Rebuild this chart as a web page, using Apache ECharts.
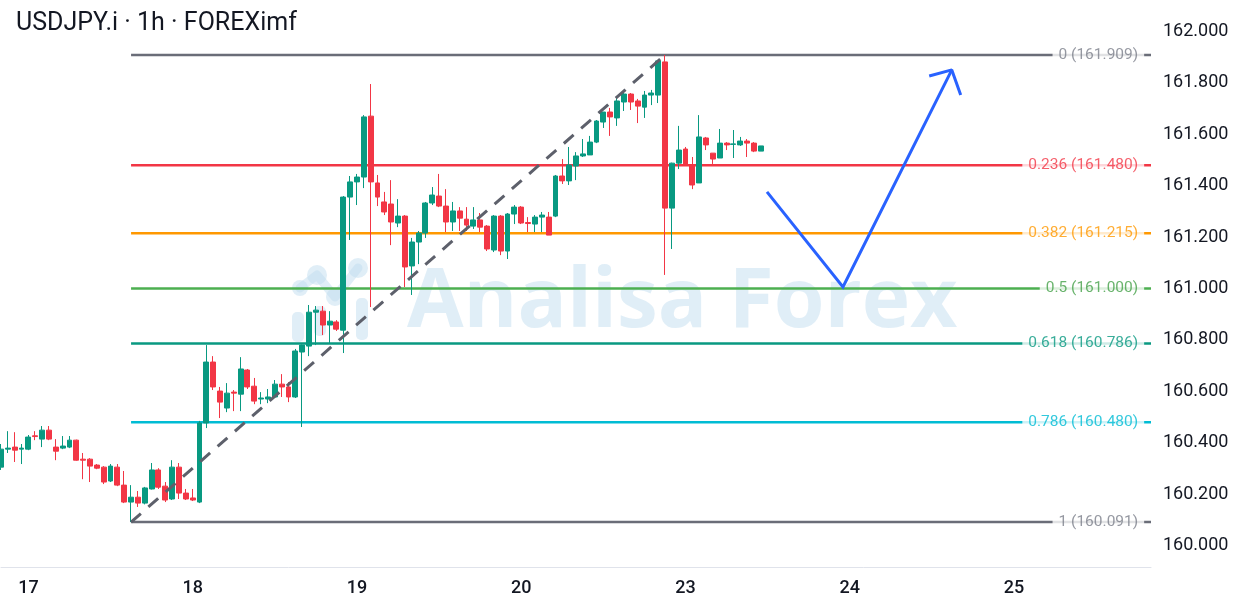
<!DOCTYPE html>
<html>
<head>
<meta charset="utf-8">
<script src="https://cdn.jsdelivr.net/npm/echarts@6/dist/echarts.min.js"></script>
<style>
html,body{margin:0;padding:0;background:#fff;}
#main{width:1248px;height:610px;}
</style>
</head>
<body>
<div id="main"></div>
<script>
// ---- data ----
const dayLabels = ['16', '17', '18', '19', '20', '23', '24', '25'];
const dayFirstHour = [20, 0, 0, 0, 0, 0, 0, 0];
const dayLastHour = [23, 23, 23, 23, 23, 23, 23, 20];

// candles: [open, close, low, high]
const candles = [
 [160.305,160.375,160.294,160.395],[160.375,160.379,160.360,160.445],[160.383,160.371,160.325,160.441],[160.375,160.379,160.317,160.395],
 [160.375,160.422,160.371,160.430],[160.427,160.424,160.410,160.445],[160.414,160.449,160.383,160.465],[160.449,160.414,160.410,160.465],
 [160.383,160.367,160.332,160.414],[160.379,160.387,160.375,160.426],[160.383,160.410,160.379,160.426],[160.410,160.332,160.330,160.412],
 [160.336,160.332,160.258,160.360],[160.336,160.309,160.247,160.340],[160.313,160.301,160.297,160.317],[160.305,160.247,160.239,160.309],
 [160.251,160.309,160.247,160.317],[160.305,160.235,160.231,160.317],[160.235,160.169,160.165,160.290],[160.169,160.188,160.091,160.235],
 [160.188,160.165,160.150,160.212],[160.165,160.224,160.160,160.228],[160.220,160.294,160.218,160.321],[160.294,160.227,160.220,160.301],
 [160.231,160.177,160.169,160.247],[160.181,160.305,160.177,160.332],[160.305,160.204,160.181,160.321],[160.204,160.181,160.177,160.220],
 [160.185,160.177,160.173,160.220],[160.169,160.477,160.165,160.485],[160.477,160.714,160.457,160.780],[160.714,160.617,160.605,160.737],
 [160.601,160.558,160.496,160.617],[160.535,160.593,160.519,160.632],[160.597,160.593,160.523,160.605],[160.589,160.687,160.523,160.733],
 [160.683,160.617,160.609,160.687],[160.620,160.562,160.550,160.652],[160.570,160.574,160.550,160.597],[160.570,160.578,160.554,160.609],
 [160.578,160.628,160.574,160.644],[160.628,160.617,160.578,160.667],[160.617,160.578,160.558,160.636],[160.578,160.757,160.574,160.765],
 [160.753,160.780,160.461,160.782],[160.776,160.908,160.737,160.936],[160.908,160.916,160.780,160.932],[160.912,160.858,160.819,160.932],
 [160.858,160.873,160.788,160.912],[160.870,160.842,160.835,160.877],[160.838,161.356,160.749,161.360],[161.356,161.415,161.189,161.438],
 [161.415,161.434,161.325,161.446],[161.434,161.668,161.391,161.675],[161.671,161.415,160.928,161.796],[161.411,161.356,161.321,161.442],
 [161.337,161.298,161.286,161.376],[161.329,161.259,161.169,161.422],[161.255,161.282,161.239,161.348],[161.282,161.084,161.006,161.286],
 [161.088,161.181,160.975,161.197],[161.181,161.216,161.095,161.224],[161.216,161.333,161.197,161.337],[161.333,161.364,161.325,161.395],
 [161.360,161.321,161.317,161.446],[161.321,161.259,161.220,161.387],[161.259,161.302,161.224,161.337],[161.302,161.274,161.224,161.317],
 [161.270,161.247,161.224,161.317],[161.243,161.267,161.232,161.317],[161.267,161.239,161.220,161.294],[161.243,161.154,161.146,161.247],
 [161.150,161.282,161.142,161.286],[161.282,161.146,161.130,161.286],[161.146,161.290,161.115,161.294],[161.290,161.317,161.251,161.325],
 [161.317,161.255,161.251,161.321],[161.257,161.253,161.220,161.278],[161.251,161.278,161.220,161.286],[161.278,161.286,161.220,161.298],
 [161.278,161.208,161.208,161.298],[161.282,161.438,161.278,161.442],[161.438,161.419,161.407,161.504],[161.419,161.481,161.403,161.551],
 [161.477,161.516,161.422,161.531],[161.516,161.524,161.512,161.582],[161.520,161.570,161.520,161.594],[161.570,161.652,161.566,161.656],
 [161.648,161.687,161.625,161.687],[161.687,161.668,161.594,161.703],[161.664,161.730,161.633,161.745],[161.726,161.757,161.691,161.773],
 [161.757,161.726,161.695,161.761],[161.730,161.710,161.644,161.738],[161.706,161.753,161.664,161.769],[161.753,161.761,161.714,161.773],
 [161.753,161.886,161.722,161.889],[161.882,161.313,161.053,161.909],[161.313,161.488,161.154,161.490],[161.488,161.539,161.465,161.633],
 [161.543,161.481,161.477,161.551],[161.481,161.403,161.387,161.512],[161.411,161.590,161.411,161.675],[161.586,161.559,161.539,161.590],
 [161.527,161.504,161.485,161.527],[161.508,161.566,161.508,161.621],[161.566,161.559,161.539,161.570],[161.561,161.563,161.508,161.617],
 [161.559,161.574,161.555,161.590],[161.574,161.566,161.512,161.582],[161.566,161.535,161.531,161.570],[161.535,161.555,161.535,161.555]
];

const fibRatios = ['0', '0.236', '0.382', '0.5', '0.618', '0.786', '1'];
const fibPrices = [161.909, 161.480, 161.215, 161.000, 160.786, 160.480, 160.091];
const fibLineColors = ['#6a6d78', '#f23645', '#ff9800', '#4caf50', '#089981', '#00bcd4', '#6a6d78'];
const fibTextColors = ['#7b7e89', '#f23645', '#ff9800', '#43a047', '#089981', '#00bcd4', '#7b7e89'];
const fibStartBar = 19;
const fibEndBar = 168;
const fibLabelBar = 167;

const trendLine = [[19, 160.091], [97, 161.909]];
const projectionPath = [[111.9, 161.376], [123.0, 161.006], [138.9, 161.851]];
const arrowHead = [[135.6, 161.827], [138.9, 161.851], [140.2, 161.753]];

const yTicks = { min: 160, max: 162, step: 0.2 };

// ---- build categories (hourly bars) ----
const categories = [];
dayLabels.forEach((d, k) => {
  for (let h = dayFirstHour[k]; h <= dayLastHour[k]; h++) {
    categories.push(d + ' ' + String(h).padStart(2, '0') + ':00');
  }
});
const lastIndex = categories.length - 1;

const chart = echarts.init(document.getElementById('main'), null, { renderer: 'canvas' });

const series = [];
fibPrices.forEach((p, k) => {
  series.push({
    type: 'line', xAxisIndex: 1, yAxisIndex: 0, symbol: 'none', silent: true, z: 1,
    lineStyle: { color: fibLineColors[k], width: 2.5 },
    data: [[fibStartBar, p], [fibEndBar, p]]
  });
});
series.push({
  type: 'candlestick', xAxisIndex: 0, yAxisIndex: 0, z: 3, barWidth: 5.4,
  itemStyle: { color: '#089981', color0: '#f23645', borderColor: '#089981', borderColor0: '#f23645', borderWidth: 1 },
  data: candles
});
series.push({
  type: 'line', xAxisIndex: 1, yAxisIndex: 0, symbol: 'none', z: 4, silent: true,
  lineStyle: { color: '#5d606b', width: 3, type: [13, 10] },
  data: trendLine
});
series.push({
  type: 'line', xAxisIndex: 1, yAxisIndex: 0, symbol: 'none', z: 5, silent: true,
  lineStyle: { color: '#2962ff', width: 3, join: 'miter' },
  data: projectionPath
});
series.push({
  type: 'line', xAxisIndex: 1, yAxisIndex: 0, symbol: 'none', z: 5, silent: true,
  lineStyle: { color: '#2962ff', width: 3 },
  data: arrowHead
});
series.push({
  type: 'scatter', xAxisIndex: 1, yAxisIndex: 0, symbolSize: 0, z: 6, silent: true,
  data: fibPrices.map((p, k) => ({
    value: [fibLabelBar, p],
    name: fibRatios[k] + ' (' + p.toFixed(3) + ')',
    label: { color: fibTextColors[k] }
  })),
  label: {
    show: true, position: 'left', distance: 0,
    formatter: (pr) => pr.data.name,
    fontFamily: 'Roboto', fontSize: 15.5,
    backgroundColor: '#ffffff', padding: [1, 6, 1, 6]
  }
});

const wmColor = 'rgba(190,220,238,0.48)';
const option = {
  animation: false,
  backgroundColor: '#ffffff',
  textStyle: { fontFamily: 'Roboto' },
  title: {
    text: 'USDJPY.i · 1h · FOREXimf', left: 11, top: 6,
    textStyle: { fontFamily: 'Roboto', fontSize: 25, fontWeight: 'normal', color: '#131722' }
  },
  grid: { left: 1, right: 97, top: 31.6, bottom: 64.5, containLabel: false },
  xAxis: [
    {
      type: 'category', data: categories, boundaryGap: false, offset: 21.5,
      axisLine: { show: true, lineStyle: { color: '#e0e3eb', width: 1 } },
      axisTick: { show: false },
      splitLine: { show: false },
      axisLabel: {
        interval: (i, v) => v.endsWith(' 00:00'),
        formatter: (v) => v.split(' ')[0],
        fontFamily: 'Roboto', fontSize: 18, fontWeight: 500, color: '#131722', margin: 12
      }
    },
    { type: 'value', min: 0, max: lastIndex, show: false }
  ],
  yAxis: {
    type: 'value', position: 'right', min: yTicks.min, max: yTicks.max, interval: yTicks.step,
    axisLine: { show: false }, axisTick: { show: false }, splitLine: { show: false },
    axisLabel: { formatter: (v) => v.toFixed(3), fontFamily: 'Roboto', fontSize: 18, color: '#131722', margin: 12 }
  },
  graphic: [
    {
      type: 'group', z: 100, silent: true,
      children: [
        { type: 'polyline', shape: { points: [[300, 288], [317, 275], [335, 297], [358, 268]] },
          style: { stroke: wmColor, lineWidth: 9, lineCap: 'round', lineJoin: 'round', fill: null } },
        { type: 'circle', shape: { cx: 317, cy: 275, r: 10 }, style: { fill: wmColor } },
        { type: 'circle', shape: { cx: 358, cy: 268, r: 10 }, style: { fill: wmColor } },
        { type: 'circle', shape: { cx: 300, cy: 288, r: 8 }, style: { fill: wmColor } },
        { type: 'circle', shape: { cx: 335, cy: 297, r: 9 }, style: { fill: wmColor } },
        { type: 'rect', shape: { x: 292, y: 312, width: 12, height: 30, r: 5 }, style: { fill: wmColor } },
        { type: 'rect', shape: { x: 314, y: 306, width: 12, height: 30, r: 5 }, style: { fill: wmColor } },
        { type: 'rect', shape: { x: 356, y: 298, width: 12, height: 42, r: 5 }, style: { fill: wmColor } },
        { type: 'text', style: { text: 'Analisa Forex', x: 407, y: 304, fill: wmColor,
            font: 'bold 82px "Open Sans"', textVerticalAlign: 'middle', verticalAlign: 'middle' } }
      ]
    }
  ],
  series: series
};
chart.setOption(option);
</script>
</body>
</html>
